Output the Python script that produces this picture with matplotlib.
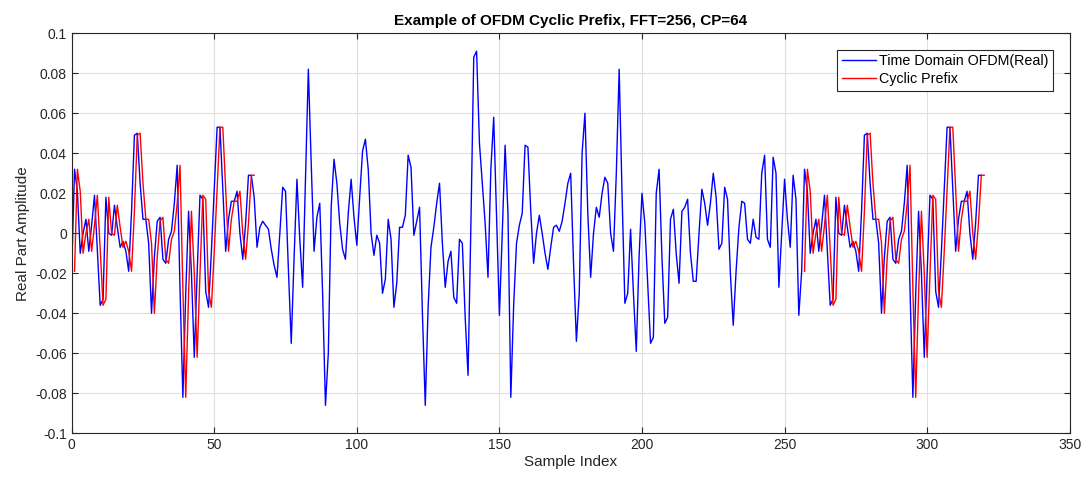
import matplotlib.pyplot as plt
import numpy as np

# cyclic prefix samples (last 64 samples of the OFDM symbol)
cp = [
    -0.019, 0.032, 0.021, -0.010, 0.000, 0.007, -0.009, 0.004, 0.019, -0.008,
    -0.036, -0.033, 0.018, 0.000, -0.001, 0.014, 0.003, -0.007, -0.004, -0.009,
    -0.019, 0.011, 0.049, 0.050, 0.025, 0.007, 0.007, -0.005, -0.040, -0.012,
    0.006, 0.008, -0.013, -0.015, -0.003, 0.001, 0.015, 0.034, -0.028, -0.082,
    -0.030, 0.011, -0.020, -0.062, -0.020, 0.019, 0.017, -0.029, -0.037, -0.009,
    0.022, 0.053, 0.053, 0.022, -0.009, 0.007, 0.016, 0.016, 0.021, 0.000,
    -0.013, 0.005, 0.029, 0.029,
]

# first 192 samples of the OFDM symbol (indices 64..255 in the plot)
body = [
    0.018, -0.007, 0.003, 0.006, 0.004, 0.002, -0.008, -0.016, -0.022, 0.000,
    0.023, 0.021, -0.018, -0.055, -0.012, 0.027, -0.003, -0.027, 0.028, 0.082,
    0.035, -0.009, 0.008, 0.015, -0.030, -0.086, -0.060, 0.013, 0.037, 0.025,
    0.005, -0.008, -0.013, 0.010, 0.027, 0.008, -0.006, 0.018, 0.041, 0.047,
    0.032, 0.000, -0.011, -0.001, -0.005, -0.030, -0.023, 0.007, -0.003, -0.037,
    -0.025, 0.003, 0.003, 0.009, 0.039, 0.033, -0.001, 0.006, 0.013, -0.040,
    -0.086, -0.037, -0.007, 0.003, 0.015, 0.025, -0.005, -0.027, -0.014, -0.009,
    -0.032, -0.035, -0.003, -0.005, -0.042, -0.071, 0.004, 0.088, 0.091, 0.045,
    0.025, 0.005, -0.022, 0.032, 0.058, 0.008, -0.041, 0.000, 0.044, 0.010,
    -0.082, -0.036, -0.005, 0.004, 0.010, 0.044, 0.043, 0.011, -0.015, 0.000,
    0.009, 0.000, -0.010, -0.018, -0.007, 0.003, 0.004, 0.001, 0.006, 0.015,
    0.025, 0.030, -0.015, -0.054, -0.030, 0.040, 0.060, 0.010, -0.022, 0.000,
    0.013, 0.008, 0.020, 0.028, 0.025, 0.000, -0.009, 0.030, 0.082, 0.020,
    -0.035, -0.030, 0.002, -0.030, -0.059, -0.011, 0.020, 0.005, -0.025, -0.055,
    -0.052, 0.020, 0.032, -0.012, -0.045, -0.042, 0.007, 0.012, -0.010, -0.025,
    0.011, 0.013, 0.017, -0.010, -0.024, -0.024, 0.000, 0.022, 0.015, 0.004,
    0.015, 0.030, 0.018, -0.008, -0.005, 0.023, 0.017, -0.020, -0.046, -0.019,
    0.003, 0.016, 0.015, -0.003, -0.005, 0.007, -0.002, -0.003, 0.030, 0.039,
    -0.003, -0.007, 0.038, 0.030, -0.027, 0.000, 0.027, 0.007, -0.007, 0.029,
    0.017, -0.041,
]

x_ticks = [0, 50, 100, 150, 200, 250, 300, 350]
y_ticks = [-0.1, -0.08, -0.06, -0.04, -0.02, 0, 0.02, 0.04, 0.06, 0.08, 0.1]
y_tick_labels = ['-0.1', '-0.08', '-0.06', '-0.04', '-0.02', '0',
                 '0.02', '0.04', '0.06', '0.08', '0.1']

# full transmitted signal = [CP, symbol], symbol ends with the CP samples
tx = np.array(cp + body + cp)
n = np.arange(len(tx))
n_cp = len(cp)

plt.rcParams['font.family'] = ['Liberation Sans', 'DejaVu Sans']

fig = plt.figure(figsize=(10.86, 4.88), dpi=100)
ax = fig.add_axes([0.066, 0.112, 0.919, 0.82])

ax.plot(n, tx, color='#0000ff', lw=1.0, label='Time Domain OFDM(Real)')
ax.plot(np.arange(1, n_cp + 1), cp, color='#ff0000', lw=1.0, label='Cyclic Prefix')
ax.plot(np.arange(len(tx) - n_cp + 1, len(tx) + 1), cp, color='#ff0000', lw=1.0)

ax.set_xlim(0, 350)
ax.set_ylim(-0.1, 0.1)
ax.set_xticks(x_ticks)
ax.set_yticks(y_ticks)
ax.set_yticklabels(y_tick_labels)
ax.grid(True, color='#dfdfdf', lw=0.8)
ax.set_axisbelow(True)
ax.tick_params(direction='in', top=True, right=True, labelsize=10,
               colors='#262626', length=4)
for s in ax.spines.values():
    s.set_color('#262626')
    s.set_linewidth(0.8)

ax.set_title('Example of OFDM Cyclic Prefix, FFT=256, CP=64',
             fontsize=11, fontweight='bold', pad=6)
ax.set_xlabel('Sample Index', fontsize=11, color='#262626', labelpad=2)
ax.set_ylabel('Real Part Amplitude', fontsize=11, color='#262626', labelpad=4)

leg = ax.legend(loc='upper right', fontsize=10.3, fancybox=False,
                edgecolor='#262626', framealpha=1, handlelength=2.4,
                handletextpad=0.25, borderpad=0.3, borderaxespad=1.15,
                labelspacing=0.3)
leg.get_frame().set_linewidth(0.8)

fig.savefig('out.png', dpi=100)
